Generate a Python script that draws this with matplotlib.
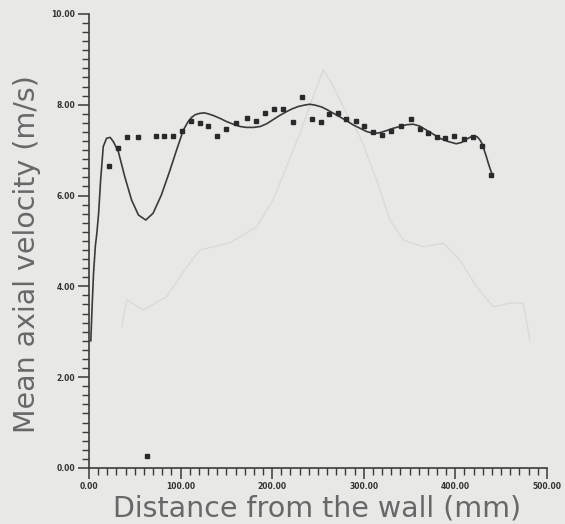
import numpy as np
import matplotlib.pyplot as plt
from matplotlib.ticker import MultipleLocator, FormatStrFormatter

# measured points (distance mm, velocity m/s)
meas_x = [22, 32, 42, 53, 63, 73, 82, 92, 101.5, 111, 121, 130, 140, 150, 160,
          172, 182, 192, 202, 212, 223, 233, 243, 253, 262, 272, 281, 291, 300,
          310, 320, 330, 341, 351.5, 361, 370, 380, 389, 399, 409, 419, 429, 439]
meas_v = [6.66, 7.04, 7.28, 7.28, 0.26, 7.31, 7.30, 7.31, 7.41, 7.65, 7.59, 7.52,
          7.30, 7.47, 7.59, 7.70, 7.64, 7.81, 7.91, 7.91, 7.62, 8.18, 7.69, 7.61,
          7.80, 7.81, 7.69, 7.64, 7.52, 7.39, 7.33, 7.41, 7.52, 7.69, 7.47, 7.37,
          7.28, 7.26, 7.30, 7.24, 7.28, 7.08, 6.45]

# fitted curve
fit_x = [2, 3.5, 5, 7, 8.5, 10.5, 12.7, 15.6, 19.2, 23, 26.5, 32, 39, 46.5, 54,
         62, 70, 79, 88, 95.6, 103, 108, 112, 116, 121, 126, 130, 136, 143,
         150, 157.5, 165, 172, 180, 187, 194, 201, 208, 216, 222, 228.5, 235,
         241, 247, 254, 260, 267, 274, 281, 288, 296, 303, 310, 317, 325, 332,
         339.5, 347, 354, 361, 368.5, 376, 383, 392, 401, 407, 412, 417, 421,
         424, 427, 430, 432, 434, 436, 438, 440]
fit_v = [2.8, 3.6, 4.3, 4.9, 5.15, 5.6, 6.34, 7.08, 7.26, 7.28, 7.19, 6.97, 6.42,
         5.90, 5.57, 5.46, 5.61, 6.01, 6.53, 7.00, 7.44, 7.62, 7.72, 7.78, 7.81,
         7.82, 7.80, 7.76, 7.70, 7.63, 7.57, 7.52, 7.50, 7.50, 7.52, 7.58, 7.67,
         7.76, 7.85, 7.91, 7.96, 7.99, 8.01, 7.99, 7.95, 7.89, 7.81, 7.73, 7.65,
         7.56, 7.48, 7.41, 7.37, 7.38, 7.43, 7.48, 7.52, 7.56, 7.57, 7.53, 7.44,
         7.35, 7.26, 7.19, 7.14, 7.17, 7.24, 7.29, 7.31, 7.29, 7.22, 7.11, 6.97,
         6.85, 6.71, 6.59, 6.47]

# faint show-through curve from the back of the page
ghost_x = [35.7, 41.2, 59.3, 84.8, 106.7, 121.2, 153.9, 183.1, 200.9, 215.8,
           230.3, 244.9, 255.8, 265, 281.3, 295.9, 314.1, 328.6, 343.1, 365,
           386.8, 405, 423.3, 441.4, 459.6, 474.1, 481.4]
ghost_v = [3.11, 3.70, 3.48, 3.77, 4.43, 4.80, 4.96, 5.31, 5.90, 6.64, 7.37,
           8.18, 8.77, 8.47, 7.81, 7.30, 6.34, 5.46, 5.02, 4.87, 4.95, 4.58,
           3.99, 3.55, 3.63, 3.63, 2.82]

bg = '#e8e8e6'
ink = '#3a3a3a'

fig = plt.figure(figsize=(5.65, 5.24), dpi=100, facecolor=bg)
ax = fig.add_axes([0.1575, 0.107, 0.8105, 0.8665], facecolor=bg)

ax.plot(ghost_x, ghost_v, color='#dadad8', linewidth=1.0, zorder=1)
ax.plot(fit_x, fit_v, color=ink, linewidth=1.2, zorder=2)
ax.plot(meas_x, meas_v, linestyle='none', marker='s', markersize=2.8,
        color='#2a2a2a', zorder=3)

ax.set_xlim(0, 500)
ax.set_ylim(0, 10)
ax.xaxis.set_major_locator(MultipleLocator(100))
ax.xaxis.set_minor_locator(MultipleLocator(10))
ax.yaxis.set_major_locator(MultipleLocator(2))
ax.yaxis.set_minor_locator(MultipleLocator(0.2))
ax.xaxis.set_major_formatter(FormatStrFormatter('%.2f'))
ax.yaxis.set_major_formatter(FormatStrFormatter('%.2f'))

for side in ['top', 'right']:
    ax.spines[side].set_visible(False)
for side in ['left', 'bottom']:
    ax.spines[side].set_color(ink)
    ax.spines[side].set_linewidth(1.2)

ax.tick_params(which='major', direction='out', length=8, width=1.1, color=ink,
               labelsize=5.5, labelcolor='#333333', pad=2)
ax.tick_params(which='minor', direction='out', length=5, width=1.0, color=ink)
for lbl in ax.get_xticklabels() + ax.get_yticklabels():
    lbl.set_fontweight('bold')

ax.set_xlabel('Distance from the wall (mm)', fontsize=20.5, color='#686868')
ax.set_ylabel('Mean axial velocity (m/s)', fontsize=20.5, color='#686868')
ax.xaxis.set_label_coords(0.497, -0.058)
ax.yaxis.set_label_coords(-0.105, 0.47)

fig.savefig('out.png', dpi=100, facecolor=bg)
